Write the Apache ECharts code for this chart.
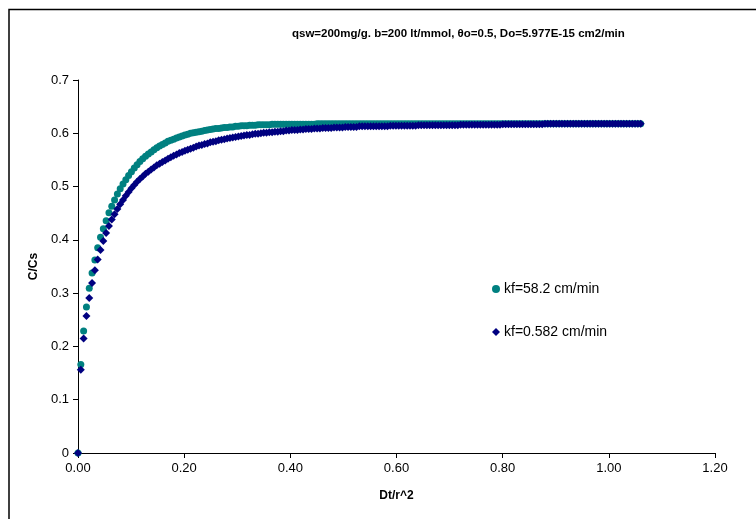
<!DOCTYPE html>
<html>
<head>
<meta charset="utf-8">
<script src="https://cdn.jsdelivr.net/npm/echarts@6/dist/echarts.min.js"></script>
<style>
html,body{margin:0;padding:0;background:#fff;}
#c{width:756px;height:519px;}
</style>
</head>
<body>
<div id="c"></div>
<script>
const titleText = 'qsw=200mg/g. b=200 lt/mmol, \u03B8o=0.5, Do=5.977E-15 cm2/min';
const xName = 'Dt/r^2';
const yName = 'C/Cs';
const seriesNames = ['kf=58.2 cm/min', 'kf=0.582 cm/min'];
const xTicks = [0, 0.2, 0.4, 0.6, 0.8, 1.0, 1.2];
const yTicks = [0, 0.1, 0.2, 0.3, 0.4, 0.5, 0.6, 0.7];

const xValues = [
0,0.0053,0.0106,0.0159,0.0212,0.0265,0.0318,0.0371,0.0424,0.0477,
0.053,0.0583,0.0636,0.0689,0.0742,0.0795,0.0848,0.0901,0.0954,0.1007,
0.106,0.1113,0.1166,0.1219,0.1272,0.1325,0.1378,0.1431,0.1484,0.1537,
0.159,0.1643,0.1696,0.1749,0.1802,0.1855,0.1908,0.1961,0.2014,0.2067,
0.212,0.2173,0.2226,0.2279,0.2332,0.2385,0.2438,0.2491,0.2544,0.2597,
0.265,0.2703,0.2756,0.2809,0.2862,0.2915,0.2968,0.3021,0.3074,0.3127,
0.318,0.3233,0.3286,0.3339,0.3392,0.3445,0.3498,0.3551,0.3604,0.3657,
0.371,0.3763,0.3816,0.3869,0.3922,0.3975,0.4028,0.4081,0.4134,0.4187,
0.424,0.4293,0.4346,0.4399,0.4452,0.4505,0.4558,0.4611,0.4664,0.4717,
0.477,0.4823,0.4876,0.4929,0.4982,0.5035,0.5088,0.5141,0.5194,0.5247,
0.53,0.5353,0.5406,0.5459,0.5512,0.5565,0.5618,0.5671,0.5724,0.5777,
0.583,0.5883,0.5936,0.5989,0.6042,0.6095,0.6148,0.6201,0.6254,0.6307,
0.636,0.6413,0.6466,0.6519,0.6572,0.6625,0.6678,0.6731,0.6784,0.6837,
0.689,0.6943,0.6996,0.7049,0.7102,0.7155,0.7208,0.7261,0.7314,0.7367,
0.742,0.7473,0.7526,0.7579,0.7632,0.7685,0.7738,0.7791,0.7844,0.7897,
0.795,0.8003,0.8056,0.8109,0.8162,0.8215,0.8268,0.8321,0.8374,0.8427,
0.848,0.8533,0.8586,0.8639,0.8692,0.8745,0.8798,0.8851,0.8904,0.8957,
0.901,0.9063,0.9116,0.9169,0.9222,0.9275,0.9328,0.9381,0.9434,0.9487,
0.954,0.9593,0.9646,0.9699,0.9752,0.9805,0.9858,0.9911,0.9964,1.0017,
1.007,1.0123,1.0176,1.0229,1.0282,1.0335,1.0388,1.0441,1.0494,1.0547,
1.06
];

const kfHigh = [
0,0.166,0.229,0.274,0.309,0.338,0.362,0.385,0.405,0.421,
0.436,0.451,0.463,0.475,0.486,0.496,0.505,0.513,0.521,0.528,
0.535,0.541,0.547,0.552,0.557,0.561,0.565,0.569,0.573,0.576,
0.579,0.582,0.585,0.587,0.589,0.591,0.593,0.595,0.597,0.598,
0.600,0.601,0.602,0.603,0.604,0.605,0.606,0.607,0.608,0.609,
0.609,0.610,0.611,0.611,0.612,0.612,0.613,0.613,0.614,0.614,
0.614,0.615,0.615,0.615,0.616,0.616,0.616,0.616,0.616,0.617,
0.617,0.617,0.617,0.617,0.617,0.617,0.617,0.617,0.617,0.617,
0.617,0.617,0.617,0.617,0.617,0.618,0.618,0.618,0.618,0.618,
0.618,0.618,0.618,0.618,0.618,0.618,0.618,0.618,0.618,0.618,
0.618,0.618,0.618,0.618,0.618,0.618,0.618,0.618,0.618,0.618,
0.618,0.618,0.618,0.618,0.618,0.618,0.618,0.618,0.618,0.618,
0.618,0.618,0.618,0.618,0.618,0.618,0.618,0.618,0.618,0.618,
0.618,0.618,0.618,0.618,0.618,0.618,0.618,0.618,0.618,0.618,
0.618,0.618,0.618,0.618,0.618,0.618,0.618,0.618,0.618,0.618,
0.618,0.618,0.618,0.618,0.618,0.618,0.618,0.618,0.618,0.618,
0.618,0.618,0.618,0.618,0.618,0.618,0.618,0.618,0.618,0.618,
0.618,0.618,0.618,0.618,0.618,0.618,0.618,0.618,0.618,0.618,
0.618,0.618,0.618,0.618,0.618,0.618,0.618,0.618,0.618,0.618,
0.618,0.618,0.618,0.618,0.618,0.618,0.618,0.618,0.618,0.618,
0.618
];

const kfLow = [
0,0.156,0.215,0.257,0.291,0.319,0.343,0.363,0.381,0.398,
0.413,0.426,0.438,0.448,0.458,0.467,0.475,0.483,0.490,0.497,
0.503,0.509,0.514,0.519,0.524,0.528,0.532,0.536,0.540,0.543,
0.546,0.549,0.552,0.555,0.558,0.560,0.563,0.565,0.567,0.569,
0.571,0.573,0.575,0.577,0.578,0.580,0.581,0.583,0.584,0.585,
0.587,0.588,0.589,0.590,0.591,0.592,0.593,0.594,0.595,0.596,
0.597,0.597,0.598,0.599,0.599,0.600,0.601,0.601,0.602,0.602,
0.603,0.603,0.604,0.604,0.605,0.605,0.606,0.606,0.606,0.607,
0.607,0.608,0.608,0.608,0.609,0.609,0.609,0.610,0.610,0.610,
0.610,0.611,0.611,0.611,0.611,0.612,0.612,0.612,0.612,0.612,
0.613,0.613,0.613,0.613,0.613,0.613,0.613,0.613,0.613,0.613,
0.613,0.614,0.614,0.614,0.614,0.614,0.614,0.614,0.614,0.614,
0.614,0.615,0.615,0.615,0.615,0.615,0.615,0.615,0.615,0.615,
0.615,0.615,0.615,0.615,0.615,0.615,0.616,0.616,0.616,0.616,
0.616,0.616,0.616,0.616,0.616,0.616,0.616,0.616,0.616,0.616,
0.616,0.617,0.617,0.617,0.617,0.617,0.617,0.617,0.617,0.617,
0.617,0.617,0.617,0.617,0.617,0.617,0.618,0.618,0.618,0.618,
0.618,0.618,0.618,0.618,0.618,0.618,0.618,0.618,0.618,0.618,
0.618,0.618,0.618,0.618,0.618,0.618,0.618,0.618,0.618,0.618,
0.618,0.618,0.618,0.618,0.618,0.618,0.618,0.618,0.618,0.618,
0.618
];

function pairs(xs, ys) { return xs.map((x, i) => [x, ys[i]]); }

const FONT = '"Liberation Sans", Arial, sans-serif';
const chart = echarts.init(document.getElementById('c'), null, {renderer: 'canvas'});
chart.setOption({
  animation: false,
  backgroundColor: '#ffffff',
  title: {
    text: titleText,
    left: 287, top: 23,
    textStyle: {fontFamily: FONT, fontSize: 11.5, fontWeight: 'bold', color: '#000'}
  },
  graphic: [{
    type: 'rect', silent: true,
    shape: {x: 9, y: 9.5, width: 1000, height: 1000},
    style: {fill: 'none', stroke: '#000', lineWidth: 1.5}
  }],
  legend: {
    orient: 'vertical',
    left: 487, top: 277,
    itemGap: 29,
    itemWidth: 8, itemHeight: 8,
    textStyle: {fontFamily: FONT, fontSize: 14, color: '#000', padding: [0, 0, 0, -1]},
    data: [{name: seriesNames[0], icon: 'circle'}, {name: seriesNames[1], icon: 'diamond'}]
  },
  grid: {left: 78, right: 41, top: 80, bottom: 66, containLabel: false},
  xAxis: {
    type: 'value', min: xTicks[0], max: xTicks[xTicks.length - 1], interval: 0.2,
    name: xName, nameLocation: 'middle', nameGap: 37,
    nameTextStyle: {fontFamily: FONT, fontSize: 12, fontWeight: 'bold', color: '#000'},
    axisLine: {show: true, lineStyle: {color: '#000', width: 1}},
    axisTick: {show: true, inside: false, length: 5, lineStyle: {color: '#000'}},
    axisLabel: {fontFamily: FONT, fontSize: 13, color: '#000', margin: 9,
      formatter: v => v.toFixed(2)},
    splitLine: {show: false}
  },
  yAxis: {
    type: 'value', min: yTicks[0], max: yTicks[yTicks.length - 1], interval: 0.1,
    name: yName, nameLocation: 'middle', nameGap: 34, nameRotate: 90,
    nameTextStyle: {fontFamily: FONT, fontSize: 12, fontWeight: 'bold', color: '#000'},
    axisLine: {show: true, lineStyle: {color: '#000', width: 1}},
    axisTick: {show: true, inside: false, length: 5, lineStyle: {color: '#000'}},
    axisLabel: {fontFamily: FONT, fontSize: 13, color: '#000', margin: 9,
      formatter: v => (Math.round(v * 10) / 10).toString()},
    splitLine: {show: false}
  },
  series: [
    {name: seriesNames[0], type: 'scatter', symbol: 'circle', symbolSize: 7,
     itemStyle: {color: '#008080', opacity: 1}, data: pairs(xValues, kfHigh)},
    {name: seriesNames[1], type: 'scatter', symbol: 'diamond', symbolSize: 8,
     itemStyle: {color: '#000080', opacity: 1}, data: pairs(xValues, kfLow)}
  ]
});
</script>
</body>
</html>
